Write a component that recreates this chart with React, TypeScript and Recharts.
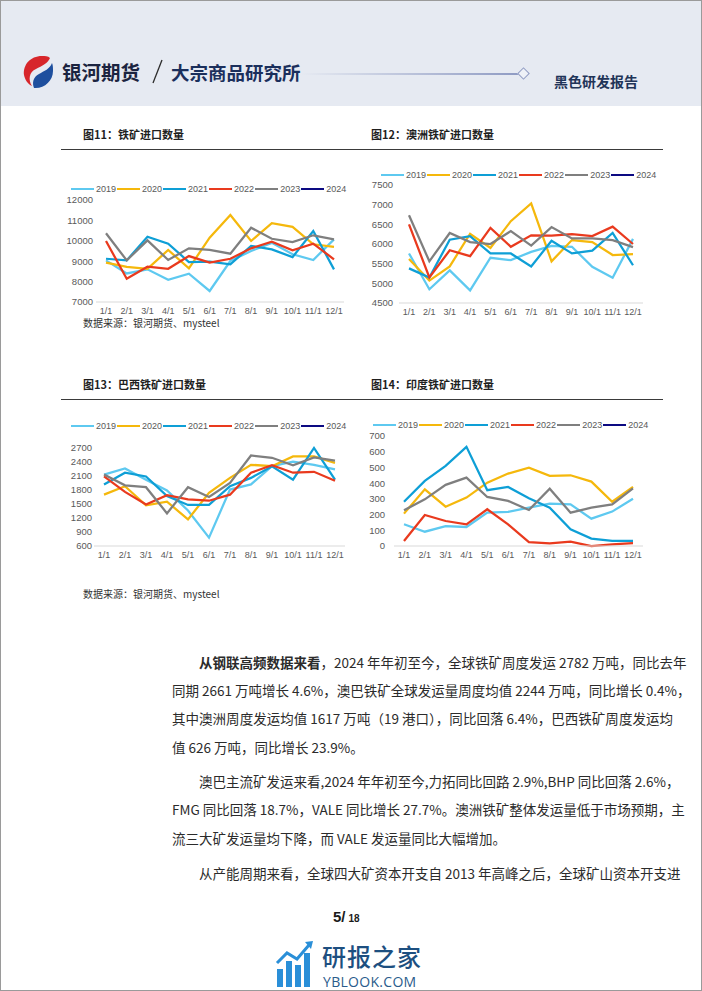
import React from "react";
import { LineChart, Line, XAxis, YAxis } from "recharts";

const months = ["1/1", "2/1", "3/1", "4/1", "5/1", "6/1", "7/1", "8/1", "9/1", "10/1", "11/1", "12/1"];
const years = ["2019", "2020", "2021", "2022", "2023", "2024"];
const yearColors = ["#5ec9f0", "#f5b80c", "#0e9fd6", "#e93a1e", "#7f7f7f", "#0c0a82"];

// 图11 铁矿进口数量
const imp2019 = [9040, 8400, 8600, 8090, 8390, 7540, 9010, 9500, 9900, 9340, 9060, 10070];
const imp2020 = [8930, 8720, 8630, 9550, 8650, 10150, 11260, 9990, 10860, 10680, 9830, 9700];
const imp2021 = [9120, 9040, 10200, 9860, 8960, 8980, 8850, 9750, 9580, 9200, 10480, 8600];
const imp2022 = [9990, 8140, 8730, 8630, 9250, 8930, 9120, 9630, 9960, 9530, 9860, 9090];
const imp2023 = [10370, 9040, 10020, 9060, 9630, 9550, 9370, 10640, 10100, 9940, 10270, 10070];
const impTicks = [7000, 8000, 9000, 10000, 11000, 12000];

// 图12 澳洲铁矿进口数量
const aus2019 = [5760, 4850, 5330, 4820, 5650, 5590, 5800, 5950, 5930, 5420, 5140, 6130];
const aus2020 = [5620, 5070, 5430, 6260, 5900, 6580, 7030, 5560, 6100, 6050, 5720, 5740];
const aus2021 = [5380, 5150, 6110, 6200, 5760, 5760, 5430, 6080, 5760, 5830, 6280, 5460];
const aus2022 = [6500, 5150, 5840, 5690, 6410, 5930, 6220, 6210, 6250, 6200, 6440, 6000];
const aus2023 = [6730, 5560, 6280, 6050, 6000, 6330, 5960, 6430, 6140, 6140, 6100, 5920];
const ausTicks = [4500, 5000, 5500, 6000, 6500, 7000, 7500];

// 图13 巴西铁矿进口数量
const bra2019 = [2130, 2260, 2020, 1790, 1360, 780, 1810, 1920, 2310, 2410, 2340, 2240];
const bra2020 = [1700, 1880, 1470, 1550, 1170, 1740, 2060, 2340, 2310, 2520, 2520, 2380];
const bra2021 = [1920, 2170, 2090, 1670, 1480, 1480, 1880, 2060, 2310, 2020, 2700, 2020];
const bra2022 = [2090, 1760, 1490, 1690, 1600, 1570, 1700, 2170, 2330, 2170, 2190, 2000];
const bra2023 = [2130, 1900, 1860, 1300, 1860, 1650, 1950, 2540, 2490, 2330, 2500, 2430];
const braTicks = [600, 900, 1200, 1500, 1800, 2100, 2400, 2700];

// 图14 印度铁矿进口数量
const ind2019 = [138, 91, 127, 121, 212, 217, 244, 270, 265, 174, 219, 301];
const ind2020 = [206, 361, 250, 308, 403, 461, 499, 446, 450, 410, 282, 376];
const ind2021 = [282, 414, 510, 631, 355, 376, 304, 244, 106, 47, 32, 32];
const ind2022 = [32, 197, 159, 138, 234, 138, 25, 17, 28, 0, 11, 19];
const ind2023 = [227, 297, 389, 435, 312, 287, 229, 365, 212, 244, 265, 367];
const indTicks = [0, 100, 200, 300, 400, 500, 600, 700];

const cjk = '"Noto Sans CJK SC", "Noto Sans", sans-serif';
const latin = '"Liberation Sans", Arial, sans-serif';

function buildRows(series: number[][]) {
  return months.map((m, i) => {
    const row: Record<string, any> = { month: m };
    series.forEach((s, j) => (row[years[j]] = s[i]));
    return row;
  });
}

function YearLegend({ x, y }: { x: number; y: number }) {
  return (
    <div
      style={{
        position: "absolute",
        left: x,
        top: y - 6,
        height: 12,
        display: "flex",
        alignItems: "center",
        fontFamily: latin,
        fontSize: 9,
        color: "#595959",
        whiteSpace: "nowrap",
      }}
    >
      {years.map((yr, i) => (
        <div key={yr} style={{ display: "flex", alignItems: "center", marginRight: 1 }}>
          <span style={{ display: "inline-block", width: 23, height: 2.5, background: yearColors[i], marginRight: 2 }} />
          <span>{yr}</span>
        </div>
      ))}
    </div>
  );
}

interface ChartProps {
  series: number[][];
  ticks: number[];
  plotLeft: number;
  plotRight: number;
  plotTop: number;
  plotBottom: number;
  labelGap: number;
}

function ImportChart({ series, ticks, plotLeft, plotRight, plotTop, plotBottom, labelGap }: ChartProps) {
  const x0 = plotLeft - 40;
  const y0 = plotTop - 10;
  const width = plotRight + 8 - x0;
  const height = plotBottom - y0 + 20;
  const data = buildRows(series);
  return (
    <div style={{ position: "absolute", left: x0, top: y0 }}>
      <LineChart width={width} height={height} data={data} margin={{ top: 10, right: 8, left: 0, bottom: 0 }}>
        <XAxis
          dataKey="month"
          interval={0}
          height={20}
          padding={{ left: 10, right: 10 }}
          tick={{ fill: "#595959", fontSize: 9, fontFamily: latin }}
          tickLine={false}
          tickSize={0}
          tickMargin={6}
          axisLine={{ stroke: "#d9d9d9", strokeWidth: 1 }}
        />
        <YAxis
          width={40}
          domain={[ticks[0], ticks[ticks.length - 1]]}
          ticks={ticks}
          interval={0}
          tick={{ fill: "#595959", fontSize: 9.5, fontFamily: latin }}
          tickLine={false}
          tickSize={0}
          tickMargin={labelGap}
          axisLine={false}
        />
        {series.map((_, j) => (
          <Line
            key={years[j]}
            type="linear"
            dataKey={years[j]}
            stroke={yearColors[j]}
            strokeWidth={2.25}
            dot={false}
            isAnimationActive={false}
          />
        ))}
      </LineChart>
    </div>
  );
}

const abs = (left: number, top: number, extra: React.CSSProperties = {}): React.CSSProperties => ({
  position: "absolute",
  left,
  top,
  whiteSpace: "nowrap",
  ...extra,
});

function TextLine({ top, indent, last, children }: { top: number; indent?: boolean; last?: boolean; children: React.ReactNode }) {
  const left = indent ? 198 : 171;
  return (
    <div
      style={{
        position: "absolute",
        left,
        top: top - 10,
        width: 672 - left,
        fontFamily: cjk,
        fontSize: 13.5,
        lineHeight: "20px",
        color: "#2b2b2b",
        textAlign: last ? "left" : "justify",
        textAlignLast: last ? "left" : "justify",
        whiteSpace: "nowrap",
      }}
    >
      {children}
    </div>
  );
}

export default function App() {
  return (
    <div
      style={{
        position: "relative",
        width: 702,
        height: 991,
        background: "#ffffff",
        overflow: "hidden",
        boxSizing: "border-box",
        border: "1px solid #9a9a9a",
      }}
    >
      <style>{`body{margin:0}`}</style>

      {/* header band */}
      <div style={{ position: "absolute", left: 0, top: 0, width: 702, height: 105, background: "#e6eaf2" }} />
      <svg style={{ position: "absolute", left: 19, top: 53 }} width={36} height={36} viewBox="0 0 36 36">
        <path d="M22 2 C10 2 3 11 4 21 C5 26 8 30 12 32 C8 26 9 18 16 15 C22 12 28 9 30 4 C28 2 25 2 22 2 Z" fill="#d7262b" />
        <path d="M32 9 C30 15 24 17 19 20 C13 23 12 29 14 34 C24 35 33 27 33 17 C33 14 33 11 32 9 Z" fill="#1e4f9e" />
      </svg>
      <div style={abs(61, 57, { fontFamily: cjk, fontSize: 19.5, fontWeight: 700, color: "#1b2440", lineHeight: "28px" })}>银河期货</div>
      <svg style={{ position: "absolute", left: 148, top: 56 }} width={16} height={28}>
        <line x1={4} y1={26} x2={13} y2={3} stroke="#2c2c2c" strokeWidth={1.3} />
      </svg>
      <div style={abs(170, 57, { fontFamily: cjk, fontSize: 18.5, fontWeight: 700, color: "#1b2f5c", lineHeight: "28px" })}>大宗商品研究所</div>
      <div
        style={{
          position: "absolute",
          left: 300,
          top: 72,
          width: 217,
          height: 2,
          background: "linear-gradient(to right, rgba(143,155,195,0), #8f9bc3)",
        }}
      />
      <div
        style={{
          position: "absolute",
          left: 518,
          top: 68,
          width: 7,
          height: 7,
          border: "1px solid #8f9bc3",
          background: "#eef1f7",
          transform: "rotate(45deg)",
        }}
      />
      <div style={abs(553, 70, { fontFamily: cjk, fontSize: 14, fontWeight: 700, color: "#1f3458", lineHeight: "20px" })}>黑色研发报告</div>

      {/* titles */}
      <div style={abs(82, 125, { fontFamily: cjk, fontSize: 11, fontWeight: 700, color: "#1f1f1f", lineHeight: "16px" })}>图11：铁矿进口数量</div>
      <div style={abs(370, 125, { fontFamily: cjk, fontSize: 11, fontWeight: 700, color: "#1f1f1f", lineHeight: "16px" })}>图12：澳洲铁矿进口数量</div>
      <div style={{ position: "absolute", left: 60, top: 148, width: 602, height: 1, background: "#3a3a3a" }} />

      <div style={abs(82, 375, { fontFamily: cjk, fontSize: 11, fontWeight: 700, color: "#1f1f1f", lineHeight: "16px" })}>图13：巴西铁矿进口数量</div>
      <div style={abs(370, 375, { fontFamily: cjk, fontSize: 11, fontWeight: 700, color: "#1f1f1f", lineHeight: "16px" })}>图14：印度铁矿进口数量</div>
      <div style={{ position: "absolute", left: 60, top: 398, width: 602, height: 1, background: "#3a3a3a" }} />

      {/* charts */}
      <YearLegend x={70} y={188} />
      <ImportChart series={[imp2019, imp2020, imp2021, imp2022, imp2023]} ticks={impTicks} plotLeft={95} plotRight={343} plotTop={199} plotBottom={301} labelGap={3} />

      <YearLegend x={380} y={174} />
      <ImportChart series={[aus2019, aus2020, aus2021, aus2022, aus2023]} ticks={ausTicks} plotLeft={398} plotRight={642} plotTop={184} plotBottom={302} labelGap={6} />

      <YearLegend x={70} y={425} />
      <ImportChart series={[bra2019, bra2020, bra2021, bra2022, bra2023]} ticks={braTicks} plotLeft={93} plotRight={344} plotTop={447} plotBottom={545} labelGap={2} />

      <YearLegend x={372} y={424} />
      <ImportChart series={[ind2019, ind2020, ind2021, ind2022, ind2023]} ticks={indTicks} plotLeft={393} plotRight={642} plotTop={435} plotBottom={545} labelGap={9} />

      <div style={abs(82, 315, { fontFamily: cjk, fontSize: 10, color: "#333", lineHeight: "14px" })}>数据来源：银河期货、mysteel</div>
      <div style={abs(82, 586, { fontFamily: cjk, fontSize: 10, color: "#333", lineHeight: "14px" })}>数据来源：银河期货、mysteel</div>

      {/* body text */}
      <TextLine top={661} indent>
        <b>从钢联高频数据来看</b>，2024 年年初至今，全球铁矿周度发运 2782 万吨，同比去年
      </TextLine>
      <TextLine top={689}>同期 2661 万吨增长 4.6%，澳巴铁矿全球发运量周度均值 2244 万吨，同比增长 0.4%，</TextLine>
      <TextLine top={717}>其中澳洲周度发运均值 1617 万吨（19 港口），同比回落 6.4%，巴西铁矿周度发运均</TextLine>
      <TextLine top={746} last>值 626 万吨，同比增长 23.9%。</TextLine>

      <TextLine top={780} indent>澳巴主流矿发运来看,2024 年年初至今,力拓同比回路 2.9%,BHP 同比回落 2.6%，</TextLine>
      <TextLine top={808}>FMG 同比回落 18.7%，VALE 同比增长 27.7%。澳洲铁矿整体发运量低于市场预期，主</TextLine>
      <TextLine top={837} last>流三大矿发运量均下降，而 VALE 发运量同比大幅增加。</TextLine>

      <TextLine top={872} indent>从产能周期来看，全球四大矿资本开支自 2013 年高峰之后，全球矿山资本开支进</TextLine>

      {/* page number */}
      <div style={abs(332, 906, { fontFamily: latin, color: "#1a1a1a", lineHeight: "20px" })}>
        <span style={{ fontSize: 15, fontWeight: 700 }}>5/</span>
        <span style={{ fontSize: 10, fontWeight: 700, marginLeft: 3 }}>18</span>
      </div>

      {/* watermark */}
      <svg style={{ position: "absolute", left: 274, top: 938 }} width={40} height={50} viewBox="0 0 40 50">
        <rect x={2} y={30} width={6} height={18} fill="#2a8fd8" />
        <rect x={11} y={22} width={6} height={26} fill="#2a8fd8" />
        <rect x={20} y={26} width={6} height={22} fill="#2a8fd8" />
        <rect x={29} y={14} width={6} height={34} fill="#2a8fd8" />
        <polyline points="2,24 12,14 22,20 34,6" fill="none" stroke="#2a8fd8" strokeWidth={3} />
        <polygon points="30,3 38,2 36,10" fill="#2a8fd8" />
      </svg>
      <div style={abs(321, 943, { fontFamily: cjk, fontSize: 24, fontWeight: 500, letterSpacing: 1, color: "#1d4f80", lineHeight: "24px" })}>研报之家</div>
      <div style={abs(322, 974, { fontFamily: '"Open Sans", sans-serif', fontSize: 14, letterSpacing: 0.3, color: "#2a5c8c", lineHeight: "14px" })}>YBLOOK.COM</div>
    </div>
  );
}
